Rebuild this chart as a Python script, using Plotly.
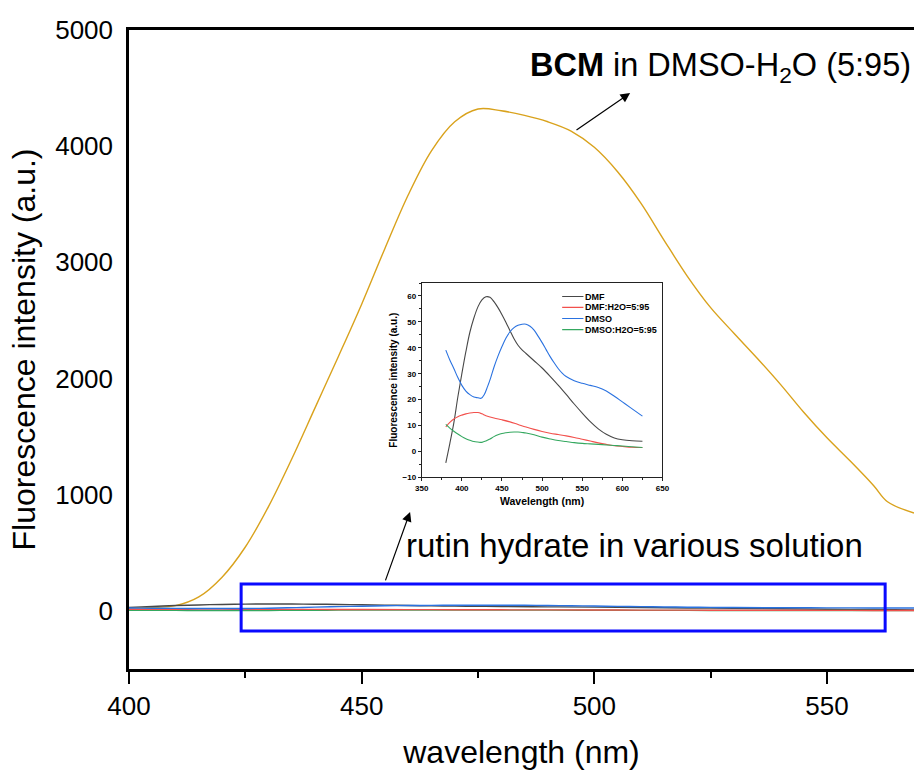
import plotly.graph_objects as go

# ---------------- data ----------------
# BCM in DMSO-H2O (5:95), main axes
bcm_wl = [400, 405, 410, 415, 420, 425, 430, 435, 440, 445, 450, 455, 460, 465, 470, 475,
          480, 485, 490, 495, 500, 505, 510, 515, 520, 525, 530, 535, 540, 545, 550, 555,
          560, 563, 568.7]
bcm_int = [25, 30, 45, 120, 290, 550, 900, 1310, 1750, 2190, 2640, 3120, 3580, 3960, 4210, 4320,
           4305, 4265, 4210, 4130, 3990, 3780, 3510, 3190, 2880, 2610, 2390, 2175, 1950, 1710,
           1490, 1290, 1080, 940, 843]

# rutin hydrate in various solutions (inset + near-zero traces in main axes)
dmf_wl = [380, 385, 390, 395, 400, 405, 410, 415, 420, 425, 430, 435, 440, 445, 450, 455, 460,
          465, 470, 475, 480, 490, 500, 510, 520, 530, 540, 550, 560, 570, 580, 590, 600, 612, 625]
dmf_int = [-4.4, 3, 11, 21, 30, 38.5, 46, 51.5, 55.8, 58.5, 59.7, 59.5, 57.8, 55.5, 52.8, 49.8,
           46.6, 43.5, 41.0, 39.2, 37.8, 35.0, 32.2, 29.0, 25.6, 22.0, 18.3, 14.8, 11.5, 8.7,
           6.6, 5.2, 4.5, 4.1, 3.9]

dmfw_wl = [380, 385, 390, 395, 400, 405, 410, 415, 420, 425, 430, 440, 450, 460, 470, 480, 490,
           500, 510, 520, 530, 540, 550, 560, 570, 580, 590, 600, 612, 625]
dmfw_int = [9.5, 11.2, 12.5, 13.4, 14.0, 14.5, 14.8, 15.0, 15.0, 14.5, 13.8, 12.9, 12.2, 11.4,
            10.4, 9.4, 8.5, 7.7, 7.0, 6.5, 6.0, 5.4, 4.7, 4.0, 3.3, 2.7, 2.2, 1.9, 1.6, 1.5]

dmso_wl = [380, 385, 390, 395, 400, 405, 410, 415, 420, 424, 428, 432, 436, 440, 445, 450, 455,
           460, 465, 470, 475, 480, 485, 490, 495, 500, 505, 510, 515, 520, 525, 530, 540, 550,
           560, 570, 580, 590, 600, 610, 625]
dmso_int = [39.1, 35.3, 32.0, 28.5, 25.5, 23.3, 21.9, 21.0, 20.7, 20.5, 22.0, 25.0, 28.5, 32.5,
            36.8, 40.5, 43.8, 46.2, 47.8, 48.7, 49.1, 49.1, 48.3, 46.8, 44.5, 42.0, 39.3, 36.6,
            34.2, 32.0, 30.2, 28.9, 27.3, 26.3, 25.5, 24.7, 23.3, 21.3, 19.1, 16.9, 13.6]

dmsow_wl = [380, 385, 390, 395, 400, 405, 410, 415, 420, 425, 430, 435, 440, 445, 450, 455, 460,
            465, 470, 475, 480, 490, 500, 510, 520, 530, 540, 550, 560, 570, 580, 590, 600, 612, 625]
dmsow_int = [10.4, 9.0, 7.8, 6.7, 5.7, 4.9, 4.3, 3.8, 3.6, 3.5, 4.0, 4.8, 5.7, 6.4, 6.9, 7.2,
             7.4, 7.5, 7.5, 7.3, 7.1, 6.4, 5.5, 4.8, 4.2, 3.8, 3.4, 3.1, 2.9, 2.7, 2.5, 2.3,
             2.1, 1.8, 1.5]

series_names = ["DMF", "DMF:H2O=5:95", "DMSO", "DMSO:H2O=5:95"]
series_x = [dmf_wl, dmfw_wl, dmso_wl, dmsow_wl]
series_y = [dmf_int, dmfw_int, dmso_int, dmsow_int]
series_colors = ["#484848", "#f2504c", "#2a72e0", "#35a860"]

main_xticks = [400, 450, 500, 550]
main_minor_xticks = [425, 475, 525]
main_yticks = [0, 1000, 2000, 3000, 4000, 5000]

# ---------------- figure ----------------
fig = go.Figure()

fig.add_trace(go.Scatter(x=bcm_wl, y=bcm_int, mode="lines",
                         line=dict(color="#d9a21c", width=1.4, shape="spline", smoothing=1.0),
                         showlegend=False, xaxis="x", yaxis="y"))

main_order = [0, 3, 1, 2]
for i in main_order:
    fig.add_trace(go.Scatter(x=series_x[i], y=series_y[i], mode="lines",
                             line=dict(color=series_colors[i], width=1.4, shape="spline"),
                             showlegend=False, xaxis="x", yaxis="y"))

for i in range(4):
    fig.add_trace(go.Scatter(x=series_x[i], y=series_y[i], mode="lines", name=series_names[i],
                             line=dict(color=series_colors[i], width=1.1, shape="spline"),
                             showlegend=False, xaxis="x2", yaxis="y2"))

font_main = "Arial, Liberation Sans, sans-serif"

fig.update_layout(
    width=914, height=772,
    margin=dict(l=129, r=0, t=30, b=103, autoexpand=False),
    paper_bgcolor="white", plot_bgcolor="white",
    font=dict(family=font_main, color="black"),
    showlegend=False,
    xaxis=dict(range=[400, 568.7], tickmode="array", tickvals=main_xticks,
               ticks="outside", ticklen=12, tickwidth=2, tickcolor="black",
               minor=dict(tickmode="array", tickvals=main_minor_xticks, ticks="outside",
                          ticklen=6, tickwidth=2, tickcolor="black"),
               showline=True, linecolor="black", linewidth=2.5, mirror=True,
               showgrid=False, zeroline=False,
               tickfont=dict(size=26, family=font_main),
               title=dict(text="wavelength (nm)", font=dict(size=32, family=font_main), standoff=21)),
    yaxis=dict(range=[-500, 5000], tickmode="array", tickvals=main_yticks,
               ticks="", showline=True, linecolor="black", linewidth=2.5,
               showgrid=False, zeroline=False, ticklabelstandoff=8,
               tickfont=dict(size=26, family=font_main),
               title=dict(text="Fluorescence intensity (a.u.)", font=dict(size=32, family=font_main),
                          standoff=11)),
    xaxis2=dict(domain=[0.3729, 0.6796], anchor="y2", range=[350, 650], dtick=50, tick0=350,
                ticks="outside", ticklen=3, tickwidth=1, tickcolor="#222",
                minor=dict(dtick=25, ticks="outside", ticklen=2, tickcolor="#222"),
                showline=True, linecolor="#222", linewidth=1, mirror=True,
                showgrid=False, zeroline=False,
                tickfont=dict(size=8, family=font_main, weight="bold"),
                title=dict(text="Wavelength (nm)", font=dict(size=10.5, family=font_main, weight="bold"),
                           standoff=5)),
    yaxis2=dict(domain=[0.300, 0.604], anchor="x2", range=[-10, 65], dtick=10, tick0=0,
                ticks="outside", ticklen=3, tickwidth=1, tickcolor="#222",
                minor=dict(dtick=5, ticks="outside", ticklen=2, tickcolor="#222"),
                showline=True, linecolor="#222", linewidth=1, mirror=True,
                showgrid=False, zeroline=False,
                tickfont=dict(size=8, family=font_main, weight="bold"),
                title=dict(text="Fluorescence intensity (a.u.)",
                           font=dict(size=10, family=font_main, weight="bold"), standoff=3)),
)

# inset legend (line samples + labels, in inset axis coordinates)
legend_rows = [59.8, 55.6, 51.3, 47.0]
for name, color, ry in zip(series_names, series_colors, legend_rows):
    fig.add_shape(type="line", xref="x2", yref="y2", x0=525, x1=551.5, y0=ry, y1=ry,
                  line=dict(color=color, width=1.2))
    fig.add_annotation(x=551.5, y=ry, xref="x2", yref="y2", xanchor="left", yanchor="middle",
                       text=name, showarrow=False,
                       font=dict(size=9, family=font_main, weight="bold", color="black"))

fig.add_shape(type="rect", xref="x", yref="y", x0=424.1, x1=562.5, y0=-172, y1=232,
              line=dict(color="#0a0aff", width=3))

fig.add_annotation(x=568.4, y=4673, xref="x", yref="y", xanchor="right", yanchor="middle",
                   text="<b>BCM</b> in DMSO-H<sub>2</sub>O (5:95)", showarrow=False,
                   font=dict(size=32.5, family=font_main, color="black"))
fig.add_annotation(x=459.0, y=559, xref="x", yref="y", xanchor="left", yanchor="middle",
                   text="rutin hydrate in various solution", showarrow=False,
                   font=dict(size=33, family=font_main, color="black"))
fig.add_annotation(x=507.7, y=4458, ax=495.85, ay=4131, xref="x", yref="y", axref="x", ayref="y",
                   text="", showarrow=True, arrowhead=2, arrowsize=1.6, arrowwidth=1.2,
                   arrowcolor="black")
fig.add_annotation(x=460.4, y=852, ax=455.0, ay=250, xref="x", yref="y", axref="x", ayref="y",
                   text="", showarrow=True, arrowhead=2, arrowsize=1.6, arrowwidth=1.2,
                   arrowcolor="black")

fig.write_html("out.html")
